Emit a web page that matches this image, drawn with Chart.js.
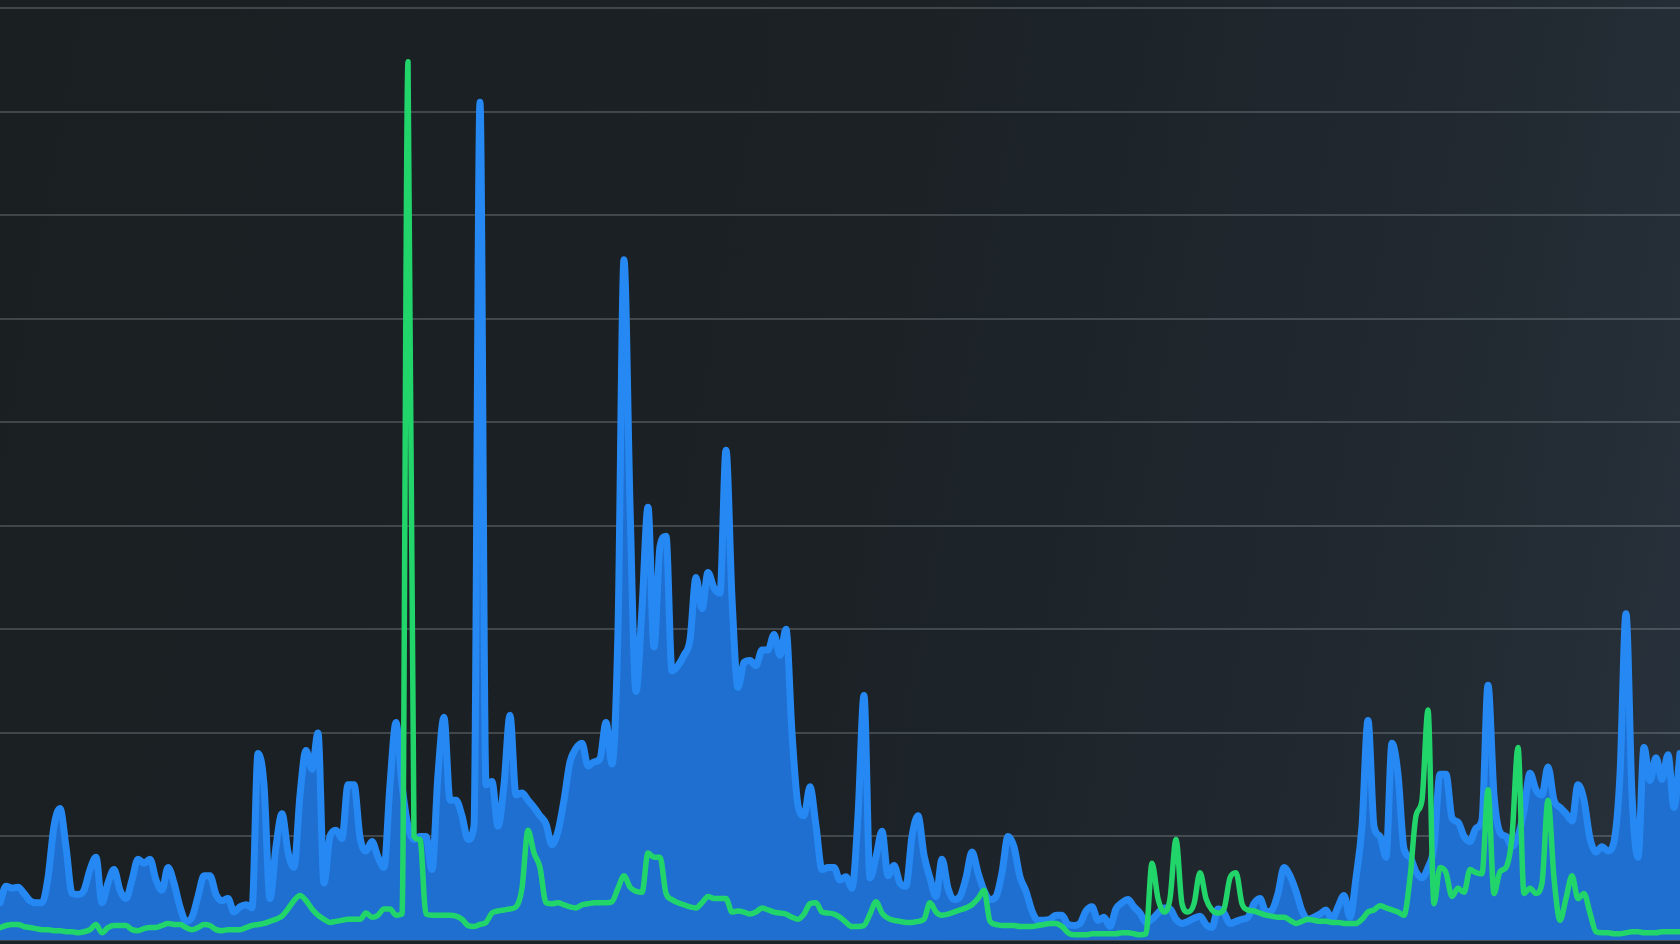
<!DOCTYPE html>
<html>
<head>
<meta charset="utf-8">
<script src="https://cdn.jsdelivr.net/npm/chart.js@4/dist/chart.umd.min.js"></script>
<style>
    html, body { margin: 0; padding: 0; overflow: hidden; }
    body {
        width: 1680px;
        height: 944px;
        background: linear-gradient(100deg, #1a1f22 0%, #1b2125 50%, #222a32 85%, #28323c 100%);
    }
    #wrap { position: relative; width: 1680px; height: 944px; }
    #line_chart { display: block; }
    #bottomStrip { position: absolute; left: 0; top: 941px; width: 1680px; height: 3px; background: #1a222a; }
</style>
</head>
<body>
<div id="wrap">
    <canvas id="line_chart" width="1680" height="944"></canvas>
    <div id="bottomStrip"></div>
</div>
<script>
// traffic samples, one every tick, left to right
var Requests = [
    36, 52, 50, 51, 45, 38, 36, 36, 60, 110, 127, 90, 45, 44, 48, 68, 80, 36, 55, 68,
    48, 40, 58, 78, 74, 78, 58, 48, 70, 55, 32, 18, 22, 42, 62, 62, 44, 38, 40, 27,
    32, 34, 31, 180, 150, 40, 90, 122, 85, 70, 140, 183, 165, 200, 55, 100, 106, 98, 150, 150,
    99, 86, 95, 80, 70, 150, 210, 150, 110, 97, 100, 100, 68, 160, 215, 135, 135, 120, 97, 110,
    809, 150, 153, 110, 150, 217, 140, 142, 135, 128, 120, 112, 92, 105, 135, 172, 185, 190, 168, 172,
    175, 210, 170, 300, 657, 420, 240, 320, 418, 283, 380, 390, 260, 265, 275, 290, 350, 320, 355, 340,
    335, 473, 330, 244, 268, 270, 265, 280, 280, 295, 275, 300, 200, 130, 120, 148, 110, 68, 70, 70,
    58, 61, 50, 120, 236, 60, 80, 105, 62, 72, 55, 52, 100, 120, 82, 60, 42, 78, 50, 39,
    42, 60, 85, 65, 48, 39, 42, 65, 100, 90, 61, 47, 28, 19, 19, 20, 24, 24, 15, 14,
    16, 28, 32, 19, 22, 13, 30, 36, 39, 32, 26, 17, 20, 26, 31, 30, 20, 16, 18, 21,
    23, 15, 12, 30, 26, 16, 18, 20, 22, 35, 40, 27, 29, 45, 70, 62, 47, 28, 20, 22,
    25, 29, 20, 32, 43, 22, 60, 110, 212, 110, 100, 80, 190, 160, 88, 80, 66, 60, 70, 90,
    160, 160, 118, 114, 100, 95, 108, 116, 246, 140, 104, 100, 90, 100, 125, 161, 145, 140, 167, 135,
    128, 122, 115, 150, 135, 98, 85, 90, 86, 95, 160, 315, 140, 80, 186, 154, 176, 155, 179, 128,
    180
];

var Errors = [
    12, 14, 15, 15, 13, 12, 11, 10, 10, 9, 9, 8, 8, 7, 8, 10, 15, 7, 12, 14,
    14, 14, 10, 9, 11, 12, 12, 14, 16, 15, 15, 12, 10, 12, 15, 14, 10, 9, 10, 10,
    10, 12, 14, 15, 16, 18, 20, 23, 30, 38, 43, 38, 30, 24, 20, 17, 18, 19, 20, 20,
    20, 26, 22, 24, 30, 30, 24, 25, 848, 100, 97, 25, 24, 24, 24, 24, 23, 20, 14, 13,
    15, 17, 26, 28, 29, 30, 32, 50, 106, 84, 70, 36, 35, 36, 34, 32, 31, 34, 35, 36,
    36, 36, 37, 50, 62, 51, 47, 46, 84, 80, 80, 45, 39, 36, 34, 32, 31, 36, 42, 40,
    40, 40, 27, 28, 27, 25, 27, 31, 29, 27, 26, 25, 22, 20, 25, 35, 36, 27, 26, 25,
    22, 17, 13, 13, 14, 25, 37, 26, 21, 19, 18, 17, 17, 18, 20, 36, 27, 24, 25, 27,
    29, 31, 34, 40, 48, 18, 15, 14, 14, 14, 13, 13, 13, 14, 15, 16, 16, 13, 7, 5,
    5, 5, 6, 6, 6, 6, 6, 7, 7, 6, 5, 6, 74, 40, 27, 40, 97, 35, 27, 35,
    65, 40, 29, 26, 30, 60, 65, 35, 29, 28, 26, 24, 23, 22, 22, 19, 16, 18, 20, 19,
    18, 18, 17, 17, 16, 16, 16, 20, 27, 29, 33, 31, 29, 27, 24, 60, 120, 135, 222, 35,
    70, 65, 42, 50, 46, 68, 65, 64, 145, 45, 66, 70, 100, 186, 45, 50, 45, 55, 135, 60,
    19, 40, 62, 40, 45, 26, 8, 7, 7, 6, 6, 7, 8, 8, 7, 7, 7, 8, 8, 8,
    8
];

var Ticks = Requests.map(function (v, i) { return i; });
var GridStep = 100;
var GridMax = 900;

var Form = {
    Init: function () {
        new Chart(document.getElementById("line_chart").getContext("2d"), Form.DisplayChart());
    },
    DisplayChart: function () {
        var config = null;

        config = {
            type: 'line',
            data: {
                labels: Ticks,
                datasets: [{
                    label: "Errors",
                    data: Errors,
                    borderColor: '#22d56b',
                    borderWidth: 5.5,
                    fill: false,
                    pointRadius: 0,
                    cubicInterpolationMode: 'monotone',
                    borderJoinStyle: 'round',
                    borderCapStyle: 'round'
                }, {
                    label: "Requests",
                    data: Requests,
                    borderColor: '#2689f3',
                    backgroundColor: '#1f6fd0',
                    borderWidth: 7,
                    fill: 'origin',
                    pointRadius: 0,
                    cubicInterpolationMode: 'monotone',
                    borderJoinStyle: 'round',
                    borderCapStyle: 'round'
                }]
            },
            options: {
                responsive: false,
                animation: false,
                layout: { padding: { top: 8, bottom: 4, left: 0, right: 0 } },
                plugins: {
                    legend: { display: false },
                    tooltip: { enabled: false }
                },
                scales: {
                    x: { display: false },
                    y: {
                        min: 0,
                        max: GridMax,
                        ticks: { display: false, stepSize: GridStep },
                        border: { display: false },
                        grid: {
                            color: 'rgba(200, 210, 215, 0.22)',
                            lineWidth: 2,
                            drawTicks: false
                        }
                    }
                }
            }
        }

        return config;
    }
}

Form.Init();
</script>
</body>
</html>
